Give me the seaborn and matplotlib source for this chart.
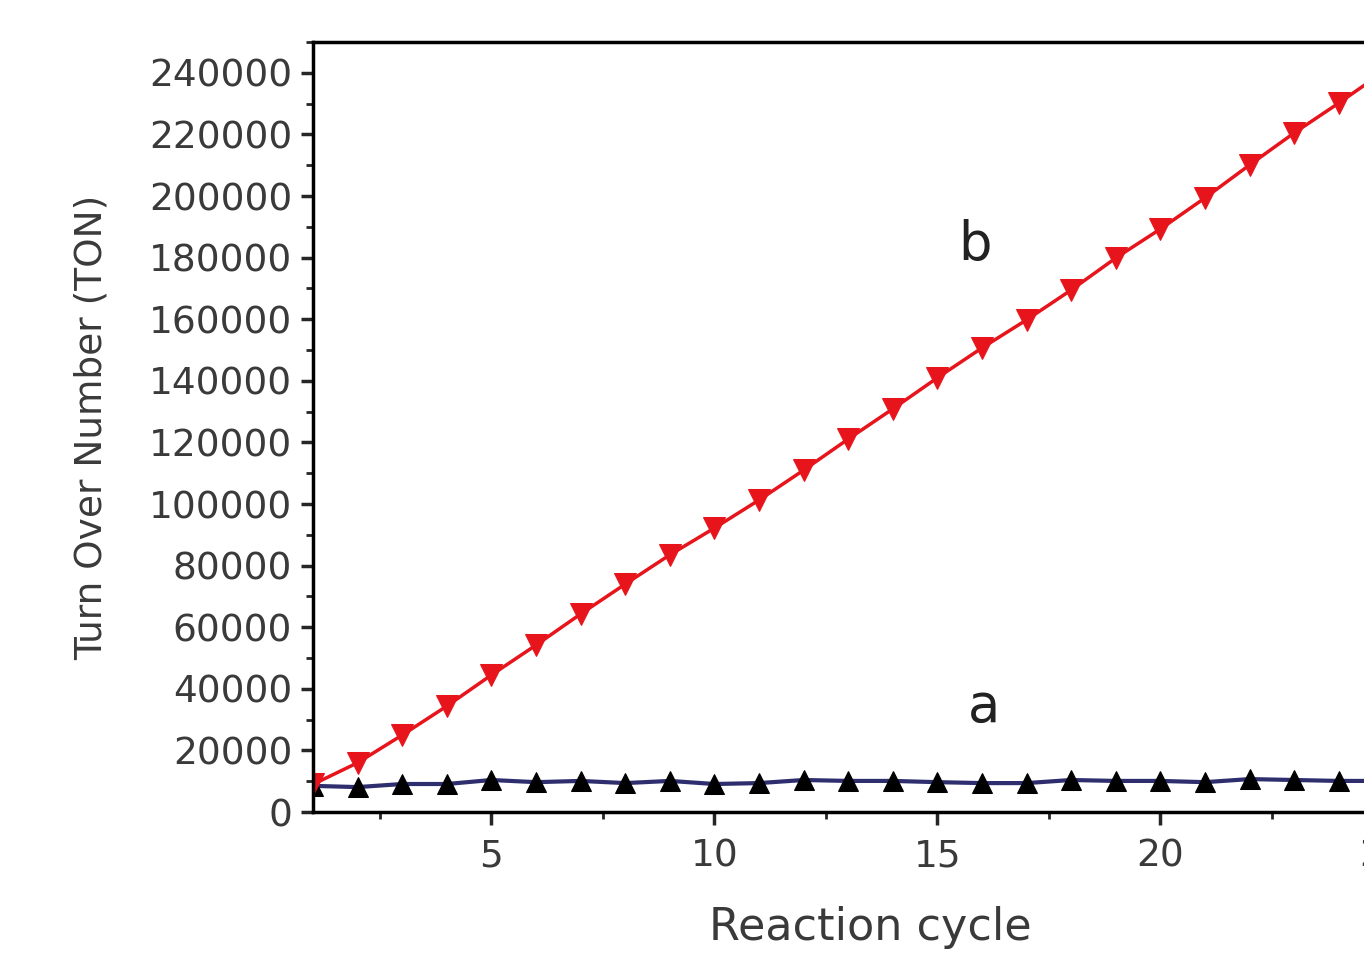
import matplotlib
matplotlib.use("Agg")
import matplotlib.pyplot as plt
import numpy as np
import pandas as pd
import seaborn as sns
from matplotlib.ticker import MultipleLocator

# ---------------------------------------------------------------------------
# Data
# ---------------------------------------------------------------------------
cycles = list(range(1, 26))

ton_a = [8500, 8100, 9100, 9100, 10400, 9700, 10100, 9400, 10100, 9100,
         9400, 10400, 10100, 10100, 9700, 9400, 9400, 10400, 10100, 10100,
         9700, 10700, 10400, 10100, 10100]

ton_b = [9000, 16000, 25000, 34400, 44500, 54200, 64300, 74000, 83500, 92200,
         101300, 111000, 121100, 130900, 141000, 150700, 159800, 169500,
         179900, 189300, 199400, 210100, 220500, 230200, 240300]

y_ticks = list(range(0, 240001, 20000))
x_ticks = [5, 10, 15, 20, 25]

df = pd.DataFrame({"cycle": cycles, "a": ton_a, "b": ton_b})

# ---------------------------------------------------------------------------
# Plot
# ---------------------------------------------------------------------------
sns.set_style("ticks")
plt.rcParams["font.family"] = ["DejaVu Sans"]

fig = plt.figure(figsize=(13.64, 9.55), dpi=100)
# axes runs past the right edge of the figure, as in the cropped original
ax = fig.add_axes([0.2295, 0.1497, 25 * 44.6 / 1364, 0.8063])

sns.lineplot(data=df, x="cycle", y="a", ax=ax, color="#2e2e6e", lw=3,
             marker="^", markersize=15, markerfacecolor="black",
             markeredgecolor="black")
sns.lineplot(data=df, x="cycle", y="b", ax=ax, color="#e8141c", lw=2.5,
             marker="v", markersize=16, markerfacecolor="#e8141c",
             markeredgecolor="#e8141c")

ax.set_xlim(1, 26)
ax.set_ylim(0, 250000)
ax.set_yticks(y_ticks)
ax.set_yticklabels([str(v) for v in y_ticks])
ax.set_xticks(x_ticks)
ax.xaxis.set_minor_locator(MultipleLocator(2.5))
ax.yaxis.set_minor_locator(MultipleLocator(10000))

for side in ["left", "bottom", "top", "right"]:
    ax.spines[side].set_visible(True)
    ax.spines[side].set_linewidth(2.5)
    ax.spines[side].set_color("black")

ax.tick_params(axis="both", which="major", direction="out", length=9,
               width=2.5, labelsize=27, labelcolor="#3a3a3a")
ax.tick_params(axis="x", which="major", pad=10)
ax.tick_params(axis="y", which="major", pad=6)
ax.tick_params(axis="both", which="minor", direction="out", length=5,
               width=2)

ax.set_xlabel("Reaction cycle", fontsize=32, color="#3a3a3a", labelpad=23)
ax.set_ylabel("Turn Over Number (TON)", fontsize=27, color="#3a3a3a",
              labelpad=28)

ax.text(15.85, 184000, "b", fontsize=38, color="#222222",
        ha="center", va="center")
ax.text(16.05, 34000, "a", fontsize=38, color="#222222",
        ha="center", va="center")

fig.savefig("out.png", dpi=100)
plt.close(fig)
